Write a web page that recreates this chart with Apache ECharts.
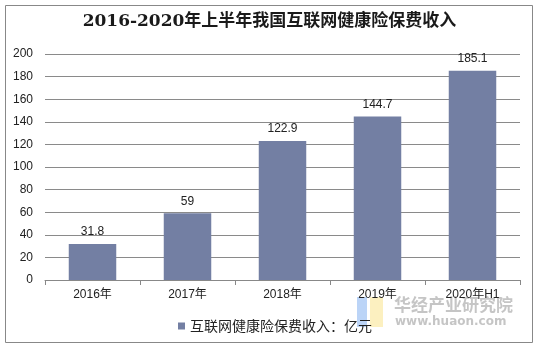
<!DOCTYPE html>
<html>
<head>
<meta charset="utf-8">
<script src="https://cdn.jsdelivr.net/npm/echarts@6/dist/echarts.min.js"></script>
<style>
html,body{margin:0;padding:0;background:#fff;}
#chart{width:539px;height:349px;}
</style>
</head>
<body>
<div id="chart"></div>
<script>
// Internet health insurance premium income, 2016 – 2020 H1 (100 million yuan)
const categories = ['2016年', '2017年', '2018年', '2019年', '2020年H1'];
const premiumIncome = [31.8, 59, 122.9, 144.7, 185.1];
const seriesName = '互联网健康险保费收入：亿元';
const yTicks = { min: 0, max: 200, interval: 20 };

const chart = echarts.init(document.getElementById('chart'), null, { renderer: 'canvas' });
chart.setOption({
  animation: false,
  backgroundColor: '#fff',
  title: {
    text: '2016-2020年上半年我国互联网健康险保费收入',
    left: 'center',
    top: 8,
    textStyle: {
      fontFamily: '"DejaVu Serif", "Noto Sans CJK SC", serif',
      fontSize: 17,
      fontWeight: 'bold',
      color: '#1a1a1a'
    }
  },
  legend: {
    data: [seriesName],
    left: 173,
    top: 314,
    itemWidth: 7,
    itemHeight: 7,
    itemGap: 4,
    icon: 'rect',
    textStyle: { fontFamily: '"Noto Sans CJK SC", sans-serif', fontSize: 14, color: '#222' }
  },
  grid: { left: 45, right: 19, top: 54, bottom: 69 },
  xAxis: {
    type: 'category',
    data: categories,
    axisLine: { lineStyle: { color: '#888', width: 1 } },
    axisTick: { show: true, length: 5, lineStyle: { color: '#888' } },
    axisLabel: { fontFamily: 'Arial, "Liberation Sans", "Noto Sans CJK SC", sans-serif', fontSize: 12, color: '#222', margin: 9 }
  },
  yAxis: {
    type: 'value',
    min: yTicks.min,
    max: yTicks.max,
    interval: yTicks.interval,
    axisLine: { show: false },
    axisTick: { show: false },
    splitLine: { lineStyle: { color: '#8a8a8a', width: 1 } },
    axisLabel: { fontFamily: 'Arial, "Liberation Sans", sans-serif', fontSize: 12, color: '#222', margin: 12 }
  },
  series: [{
    name: seriesName,
    type: 'bar',
    data: premiumIncome,
    barWidth: '50%',
    itemStyle: { color: '#737fa3' },
    label: {
      show: true,
      position: 'top',
      distance: 6,
      fontFamily: 'Arial, "Liberation Sans", sans-serif',
      fontSize: 12,
      color: '#222'
    }
  }],
  graphic: [
    // outer frame
    { type: 'rect', shape: { x: 5.5, y: 5.5, width: 527, height: 337 }, style: { fill: 'none', stroke: '#888', lineWidth: 1 }, silent: true },
    // site mark
    { type: 'rect', shape: { x: 357, y: 297, width: 10, height: 30 }, style: { fill: 'rgba(120,170,240,0.5)' }, silent: true },
    { type: 'rect', shape: { x: 370, y: 297, width: 13, height: 30 }, style: { fill: 'rgba(250,225,130,0.5)' }, silent: true },
    { type: 'text', left: 394, top: 296, style: { text: '华经产业研究院', fontFamily: '"Noto Sans CJK SC", sans-serif', fontSize: 17, fontWeight: 'bold', fill: 'rgba(150,150,150,0.55)' }, silent: true },
    { type: 'text', left: 395, top: 316, style: { text: 'www.huaon.com', fontFamily: '"DejaVu Sans", sans-serif', fontSize: 12, fontWeight: 'bold', fill: 'rgba(150,150,150,0.55)' }, silent: true }
  ]
});
</script>
</body>
</html>
